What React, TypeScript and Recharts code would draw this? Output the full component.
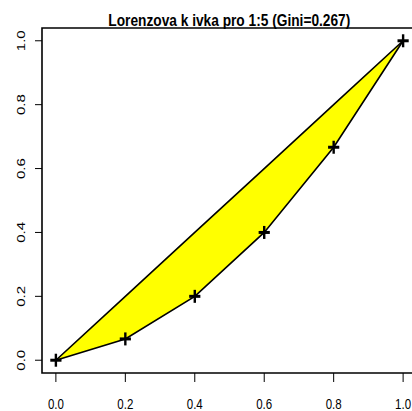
import React from "react";
import { ComposedChart, Area, Line, XAxis, YAxis, ReferenceArea } from "recharts";

const xValues = [0, 0.2, 0.4, 0.6, 0.8, 1.0];
const lorenzValues = [0, 0.0667, 0.2, 0.4, 0.6667, 1.0];
const equalityValues = [0, 0.2, 0.4, 0.6, 0.8, 1.0];
const xTicks = [0, 0.2, 0.4, 0.6, 0.8, 1.0];
const yTicks = [0, 0.2, 0.4, 0.6, 0.8, 1.0];
const titleText = "Lorenzova k ivka pro 1:5 (Gini=0.267)";

const data = xValues.map((x, i) => ({
  x,
  lorenz: lorenzValues[i],
  equality: equalityValues[i],
  band: [lorenzValues[i], equalityValues[i]],
}));

const FONT = "'Liberation Sans', Arial, sans-serif";

const XTick = (props: any) => {
  const { x, payload } = props;
  return (
    <g>
      <text
        x={x}
        y={409.3}
        textAnchor="middle"
        fontFamily={FONT}
        fontSize={15}
        fill="#000"
        textLength={16}
        lengthAdjust="spacingAndGlyphs"
      >
        {payload.value.toFixed(1)}
      </text>
    </g>
  );
};

const YTick = (props: any) => {
  const { y, payload } = props;
  const cx = 25.2;
  return (
    <g transform={`translate(${cx}, ${y}) scale(0.77, 1) rotate(-90)`}>
      <text x={0} y={0} textAnchor="middle" fontFamily={FONT} fontSize={15} fill="#000">
        {payload.value.toFixed(1)}
      </text>
    </g>
  );
};

const PlusDot = (props: any) => {
  const { cx, cy, index } = props;
  if (cx == null || cy == null) return <g key={`d${index}`} />;
  return (
    <g key={`d${index}`}>
      <path d={`M${cx - 5.6},${cy}h11.2`} stroke="#000" strokeWidth={3} fill="none" />
      <path d={`M${cx},${cy - 6.5}v13`} stroke="#000" strokeWidth={2.4} fill="none" />
    </g>
  );
};

export default function App() {
  return (
    <div style={{ position: "absolute", left: 0, top: 0, width: 412, height: 411, overflow: "hidden", background: "#fff" }}>
      <div style={{ position: "absolute", left: 0, top: 0 }}>
        <ComposedChart
          width={430}
          height={411}
          data={data}
          margin={{ top: 28, right: 13, bottom: 0, left: 0 }}
        >
          <XAxis
            dataKey="x"
            type="number"
            domain={[-0.04, 1.04]}
            ticks={xTicks}
            interval={0}
            height={38}
            axisLine={false}
            tickLine={{ stroke: "#000", strokeWidth: 1 }}
            tickSize={9}
            tick={<XTick />}
            allowDataOverflow
          />
          <YAxis
            type="number"
            domain={[-0.04, 1.04]}
            ticks={yTicks}
            interval={0}
            width={42}
            axisLine={false}
            tickLine={{ stroke: "#000", strokeWidth: 1 }}
            tickSize={7}
            tick={<YTick />}
            allowDataOverflow
          />
          <Area
            dataKey="band"
            type="linear"
            fill="#ffff00"
            fillOpacity={1}
            stroke="none"
            isAnimationActive={false}
            activeDot={false}
          />
          <Line
            dataKey="equality"
            type="linear"
            stroke="#000"
            strokeWidth={1.6}
            dot={false}
            activeDot={false}
            isAnimationActive={false}
          />
          <Line
            dataKey="lorenz"
            type="linear"
            stroke="#000"
            strokeWidth={1.6}
            dot={<PlusDot />}
            activeDot={false}
            isAnimationActive={false}
          />
          <ReferenceArea
            x1={-0.04}
            x2={1.04}
            y1={-0.04}
            y2={1.04}
            fill="none"
            stroke="#000"
            strokeWidth={1.6}
            ifOverflow="visible"
          />
        </ComposedChart>
      </div>
      <svg width={412} height={40} style={{ position: "absolute", left: 0, top: 0 }}>
        <text
          x={108.3}
          y={25.7}
          fontFamily={FONT}
          fontWeight="bold"
          fontSize={17}
          fill="#000"
          textLength={242}
          lengthAdjust="spacingAndGlyphs"
        >
          {titleText}
        </text>
      </svg>
    </div>
  );
}
